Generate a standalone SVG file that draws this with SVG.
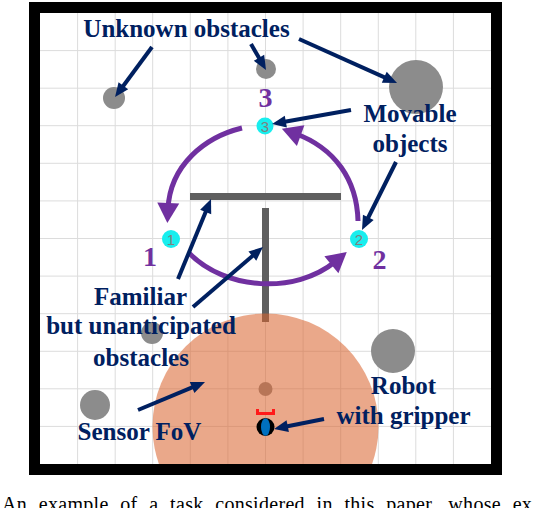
<svg xmlns="http://www.w3.org/2000/svg" width="534" height="508" viewBox="0 0 534 508">
<defs>
<style>
.grid{stroke:#dcdcdc;stroke-width:1;fill:none}
.obs{fill:#8c8c8c}
.wall{fill:#5f5f5f}
.obj{fill:#18eeee}
.objnum{font-family:"Liberation Sans",Arial,sans-serif;font-size:15px;fill:#808080;text-anchor:middle}
.lbl{font-family:"Liberation Serif","Times New Roman",serif;font-weight:bold;font-size:25px;fill:#002060;text-anchor:middle}
.num{font-family:"Liberation Serif","Times New Roman",serif;font-weight:bold;font-size:28px;fill:#7030a0;text-anchor:middle}
.cap{font-family:"Liberation Serif","Times New Roman",serif;font-size:20px;fill:#000;word-spacing:6.4px;letter-spacing:0.3px}
.nav{stroke:#002060;stroke-width:4;fill:none;marker-end:url(#ah)}
.pur{stroke:#7030a0;stroke-width:5;fill:none;marker-end:url(#ph)}
</style>
<marker id="ah" markerUnits="userSpaceOnUse" markerWidth="14" markerHeight="12" refX="4" refY="6" orient="auto" overflow="visible"><path d="M0,0 L14,6 L0,12 z" fill="#002060"/></marker>
<marker id="ph" markerUnits="userSpaceOnUse" markerWidth="20" markerHeight="22" refX="6" refY="11" orient="auto" overflow="visible"><path d="M0,0 L20,11 L0,22 z" fill="#7030a0"/></marker>
<clipPath id="inner"><rect x="40" y="13" width="451" height="451"/></clipPath>
</defs>
<rect width="534" height="508" fill="#fff"/>
<g id="grid" class="grid">
<path d="M77.6,13V464M115.2,13V464M152.7,13V464M190.3,13V464M227.9,13V464M265.5,13V464M303.1,13V464M340.7,13V464M378.3,13V464M415.8,13V464M453.4,13V464"/>
<path d="M40,50.6H491M40,88.2H491M40,125.7H491M40,163.3H491M40,200.9H491M40,238.5H491M40,276.1H491M40,313.7H491M40,351.3H491M40,388.8H491M40,426.4H491"/>
</g>
<g id="obstacle-a"><circle class="obs" cx="114" cy="98" r="11"/></g>
<g id="obstacle-b"><circle class="obs" cx="266" cy="69" r="10"/></g>
<g id="obstacle-c"><circle class="obs" cx="416" cy="87" r="27"/></g>
<g id="obstacle-d"><circle class="obs" cx="152" cy="333" r="11"/></g>
<g id="obstacle-e"><circle class="obs" cx="95" cy="405" r="15"/></g>
<g id="obstacle-f"><circle class="obs" cx="393" cy="351" r="22"/></g>
<g id="obstacle-g"><circle class="obs" cx="265.5" cy="389" r="7"/></g>
<g id="wall">
<rect class="wall" x="190" y="193" width="151" height="7"/>
<rect class="wall" x="262" y="208" width="7" height="114"/>
</g>
<g id="sensor-fov" clip-path="url(#inner)"><circle cx="265.5" cy="426.5" r="113" fill="#da642e" fill-opacity="0.56"/></g>
<g id="robot">
<path d="M257.5,409V413.5H273.5V409" fill="none" stroke="#ff1a1a" stroke-width="3"/>
<circle cx="265.5" cy="427" r="9" fill="#000"/>
<ellipse cx="265.5" cy="427" rx="4.5" ry="8.8" fill="#0070c0"/>
</g>
<g id="object-3"><circle class="obj" cx="265" cy="126" r="8.5"/><text class="objnum" x="265" y="131.5">3</text></g>
<g id="object-1"><circle class="obj" cx="171" cy="239" r="9"/><text class="objnum" x="171" y="244.5">1</text></g>
<g id="object-2"><circle class="obj" cx="359" cy="239" r="9"/><text class="objnum" x="359" y="244.5">2</text></g>
<g id="connectors">
<path class="pur" d="M242,128 C205,137 170,165 168,209"/>
<path class="pur" d="M189,253 C225,290 295,295 336,261"/>
<path class="pur" d="M358,221 C357,180 335,148 295,133.5"/>
<line class="nav" x1="152" y1="47" x2="121" y2="89"/>
<line class="nav" x1="251" y1="44" x2="261" y2="61.3"/>
<line class="nav" x1="299" y1="39" x2="387.9" y2="78.9"/>
<line class="nav" x1="351" y1="110" x2="281.9" y2="122.3"/>
<line class="nav" x1="396" y1="162" x2="366.5" y2="221"/>
<line class="nav" x1="178" y1="279" x2="207.2" y2="208.3"/>
<line class="nav" x1="193" y1="307" x2="255.4" y2="253.5"/>
<line class="nav" x1="138" y1="410" x2="195.8" y2="385.9"/>
<line class="nav" x1="324" y1="419" x2="283.8" y2="427"/>
</g>
<g id="labels">
<text class="num" x="265.5" y="107">3</text>
<text class="num" x="150" y="266">1</text>
<text class="num" x="379.5" y="269">2</text>
<text class="lbl" x="186.5" y="37">Unknown obstacles</text>
<text class="lbl" x="410" y="122">Movable</text>
<text class="lbl" x="410" y="152">objects</text>
<text class="lbl" x="140.5" y="305">Familiar</text>
<text class="lbl" x="141" y="334">but unanticipated</text>
<text class="lbl" x="141" y="366">obstacles</text>
<text class="lbl" x="139.5" y="440">Sensor FoV</text>
<text class="lbl" x="403.5" y="394">Robot</text>
<text class="lbl" x="403.5" y="424">with gripper</text>
</g>
<rect id="frame" x="34.5" y="7.5" width="462" height="462" fill="none" stroke="#000" stroke-width="11"/>
<text class="cap" x="2" y="511">An example of a task considered in this paper, whose ex</text>
</svg>
